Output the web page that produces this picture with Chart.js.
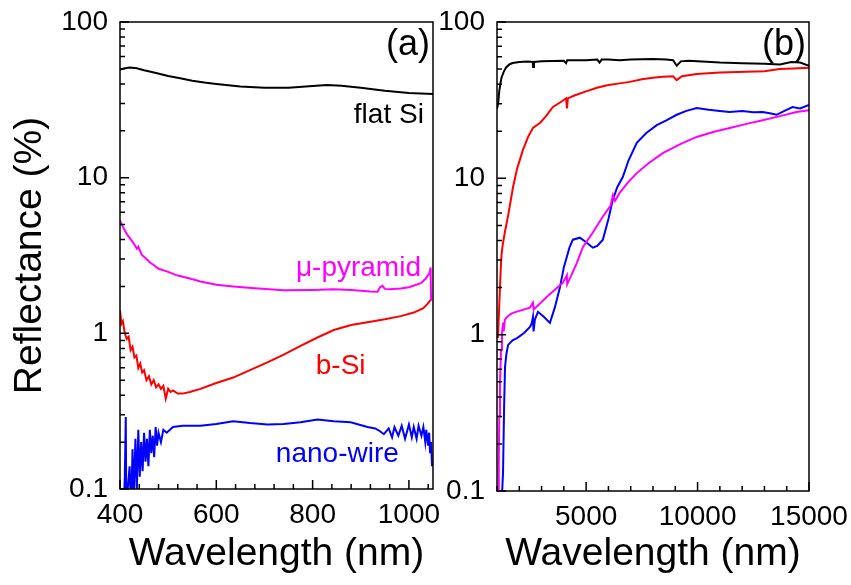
<!DOCTYPE html>
<html>
<head>
<meta charset="utf-8">
<script src="https://cdn.jsdelivr.net/npm/chart.js@4.4.0/dist/chart.umd.min.js"></script>
<style>
  html, body { margin: 0; padding: 0; background: #fff; }
  #wrapA { position: absolute; left: 0; top: 0; width: 440px; height: 585px; }
  #wrapB { position: absolute; left: 440px; top: 0; width: 411px; height: 585px; }
</style>
</head>
<body>
<div id="wrapA"><canvas id="chartA" width="440" height="585"></canvas></div>
<div id="wrapB"><canvas id="chartB" width="411" height="585"></canvas></div>
<script>
//---- panel (a) data: wavelength (nm) / reflectance (%) ----
const flatWl = [400,410,420,435,450,475,500,525,550,575,600,650,700,750,800,830,860,900,950,1000,1050];
const flatR  = [49.5,50.5,51,50.5,49,47,45,43.5,42,40.8,40,38.5,37.8,37.8,38.8,39.4,39,37.8,36.2,35,34.5];

const pyrWl = [400,405,410,415,420,428,435,438,445,455,462,470,480,497,520,545,567,600,635,680,740,800,844,880,920,935,940,945,950,960,983,1000,1025,1035,1043,1045,1046];
const pyrR  = [5.3,4.9,4.6,4.3,4.1,3.8,3.5,3.6,3.2,3.0,2.85,2.75,2.6,2.5,2.35,2.25,2.15,2.05,2.0,1.95,1.89,1.9,1.92,1.9,1.86,1.85,1.98,2.02,1.93,1.92,1.94,1.98,2.1,2.25,2.45,2.65,1.62];

const bsiWl = [400,403,406,410,414,418,422,426,430,434,438,442,446,450,455,460,465,470,475,480,485,490,495,500,505,510,520,530,545,567,600,635,670,706,740,775,810,844,880,914,950,983,1010,1030,1039,1046];
const bsiR  = [1.4,1.15,1.2,1.0,0.92,0.95,0.78,0.82,0.7,0.72,0.6,0.64,0.56,0.58,0.5,0.53,0.47,0.5,0.45,0.47,0.44,0.46,0.38,0.44,0.42,0.43,0.41,0.41,0.42,0.44,0.48,0.52,0.58,0.65,0.73,0.83,0.94,1.05,1.13,1.18,1.23,1.29,1.36,1.45,1.55,1.65];

const nwWl = [405,408,410,412,413,416,420,423,426,429,432,435,438,441,444,447,450,453,456,459,462,465,468,471,474,477,480,485,490,497,510,530,567,600,635,670,706,740,775,810,844,879,914,930,940,948,958,965,970,978,985,992,1000,1006,1010,1016,1020,1026,1030,1034,1036,1040,1042,1044,1046,1048];
const nwR  = [0.06,0.08,0.12,0.29,0.08,0.1,0.14,0.07,0.18,0.09,0.21,0.1,0.24,0.12,0.2,0.13,0.23,0.15,0.21,0.14,0.24,0.17,0.22,0.16,0.25,0.19,0.23,0.2,0.24,0.23,0.25,0.255,0.255,0.262,0.272,0.265,0.26,0.262,0.268,0.28,0.272,0.268,0.25,0.245,0.235,0.225,0.245,0.215,0.25,0.22,0.255,0.21,0.26,0.215,0.25,0.21,0.255,0.22,0.25,0.2,0.24,0.19,0.23,0.17,0.2,0.14];

//---- panel (b) data ----
const flatWlB = [1000,1050,1100,1150,1200,1300,1400,1550,1700,2000,2400,2600,2620,2660,3000,3500,4000,4100,4150,5000,5500,5600,5700,6000,6500,7000,8000,8600,8900,9064,9250,9600,10000,11000,12000,13000,13700,14200,14600,15000];
const flatRB  = [28,30,36,40,44,48,51,53.5,54.6,55.5,55.8,55.5,51.5,55.5,56,56.3,56.5,54.5,57,57,57.5,55,57.5,57.5,57,57.5,58,57.5,57,52.5,56,56.5,56,55,54.5,54,53.5,55.5,55,52.5];

const bsiWlB = [1040,1080,1120,1160,1200,1250,1350,1500,1720,1900,2165,2400,2613,2926,3200,3509,3900,4100,4140,4180,4500,5000,5480,6000,6500,6958,7500,8000,8437,8900,9064,9300,9960,11000,12200,13000,13678,14300,15000];
const bsiRB  = [0.95,1.3,1.8,2.5,3.2,3.7,4.5,5.8,8.8,11.5,15.2,18.5,21,22.6,25,28.6,31,32.5,28,32.5,34,36,38,39.5,40.5,41.4,43,44,44.6,45,42.5,45,46.5,47.5,48,48.5,50,50.5,51];

const nwWlB = [1200,1270,1320,1360,1420,1500,1700,1900,2200,2480,2560,2613,2640,2700,2837,3100,3374,3600,3822,4000,4136,4250,4405,4718,5000,5300,5500,5750,6000,6197,6400,6645,6900,7272,7700,8168,8600,9064,9500,9960,10500,11000,11438,12000,12500,12917,13300,13544,13900,14261,14600,15000];
const nwRB  = [0.08,0.13,0.35,0.62,0.75,0.86,0.92,0.95,1.02,1.12,1.18,1.3,1.05,1.25,1.4,1.3,1.19,1.5,2.0,2.7,3.15,3.6,4.05,4.17,3.9,3.6,3.7,4.05,5.5,7.3,8.8,10.2,13,16.9,19.5,21.9,23.5,25.5,27,28.2,27.5,27,26.6,27,26.5,26.6,26,25.5,27,28.6,28,29.5];

const pyrWlB = [1060,1080,1100,1134,1180,1224,1280,1300,1358,1450,1600,1717,2000,2478,2613,2650,3240,3957,4136,4150,4584,4853,5300,5750,6100,6200,6300,6510,6900,7272,7800,8437,9200,9960,10700,11438,12200,12917,13700,14440,15000];
const pyrRB  = [0.08,0.15,0.3,0.49,0.8,1.03,1.2,1.05,1.25,1.3,1.35,1.38,1.42,1.49,1.6,1.45,1.75,2.15,2.4,2.1,2.88,3.63,4.5,5.7,6.7,7.8,7.2,8.1,9.5,10.8,12.5,14.5,16.5,18.4,19.8,21,22.3,23.5,25,26.6,27.3];

//---- axis ticks ----
const yLabelTicks = [0.1, 1, 10, 100];
const yMinorTicks = [0.2,0.3,0.4,0.5,0.6,0.7,0.8,0.9,2,3,4,5,6,7,8,9,20,30,40,50,60,70,80,90];
const xLabelTicksA = [400, 600, 800, 1000];
const xMinorTicksA = [440,480,520,560,640,680,720,760,840,880,920,960,1040];
const xLabelTicksB = [5000, 10000, 15000];
const xMinorTicksB = [1000,2000,3000,4000,6000,7000,8000,9000,11000,12000,13000,14000];

const pts = (xs, ys) => xs.map((x, i) => ({x: x, y: ys[i]}));

Chart.defaults.font.family = '"Liberation Sans", Arial, sans-serif';
Chart.defaults.color = '#000';

//----PLUGIN: frame, inward ticks, text labels----
const frameTicks = {
  id: 'frameTicks',
  afterDatasetsDraw(chart, args, opts) {
    const { ctx, chartArea: { left, right, top, bottom }, scales: { x, y } } = chart;
    ctx.save();
    ctx.strokeStyle = '#000';
    ctx.lineWidth = 1.5;
    ctx.beginPath();
    yLabelTicks.forEach(v => { const p = y.getPixelForValue(v); ctx.moveTo(left, p); ctx.lineTo(left + 9, p); });
    yMinorTicks.forEach(v => { const p = y.getPixelForValue(v); ctx.moveTo(left, p); ctx.lineTo(left + 5, p); });
    opts.xMajor.forEach(v => { const p = x.getPixelForValue(v); ctx.moveTo(p, bottom); ctx.lineTo(p, bottom - 9); });
    opts.xMinor.forEach(v => { const p = x.getPixelForValue(v); ctx.moveTo(p, bottom); ctx.lineTo(p, bottom - 5); });
    ctx.stroke();
    ctx.strokeRect(left, top, right - left, bottom - top);

    ctx.textAlign = 'right';
    ctx.textBaseline = 'alphabetic';
    ctx.fillStyle = '#000';
    ctx.font = '36px "Liberation Sans", Arial, sans-serif';
    ctx.fillText(opts.panel, right - 3, top + 33);
    ctx.font = '28px "Liberation Sans", Arial, sans-serif';
    (opts.labels || []).forEach(l => {
      ctx.fillStyle = l.color;
      ctx.fillText(l.text, x.getPixelForValue(l.x), y.getPixelForValue(l.y));
    });
    ctx.restore();
  }
};

const lineDs = (label, data, color) => ({
  label, data, borderColor: color, backgroundColor: color,
  showLine: true, pointRadius: 0, borderWidth: 2, tension: 0
});

function makeOptions(cfg) {
  return {
    responsive: false,
    animation: false,
    layout: { padding: { top: 22, right: cfg.padRight, left: 0, bottom: 0 }, autoPadding: false },
    plugins: {
      legend: { display: false },
      tooltip: { enabled: false },
      frameTicks: { panel: cfg.panel, xMajor: cfg.xMajor, xMinor: cfg.xMinor, labels: cfg.labels }
    },
    scales: {
      x: {
        type: 'linear', min: cfg.xMin, max: cfg.xMax,
        afterBuildTicks: s => { s.ticks = cfg.xMajor.map(v => ({ value: v })); },
        afterFit: s => { s.height = cfg.xHeight; s.paddingLeft = 0; s.paddingRight = 0; },
        grid: { display: false, drawTicks: false },
        border: { display: false },
        ticks: { padding: 9, font: { size: 28 }, color: '#000', maxRotation: 0, autoSkip: false, callback: v => String(v) },
        title: { display: cfg.showTitles, text: 'Wavelength (nm)', font: { size: 39 }, color: '#000', padding: { top: 0, bottom: 7 } }
      },
      y: {
        type: 'logarithmic', min: 0.1, max: 100,
        afterBuildTicks: s => { s.ticks = yLabelTicks.map(v => ({ value: v })); },
        afterFit: s => { s.width = cfg.yWidth; s.paddingTop = 0; s.paddingBottom = 0; },
        grid: { display: false, drawTicks: false },
        border: { display: false },
        ticks: { padding: 12, font: { size: 28 }, color: '#000', autoSkip: false, callback: v => String(v) },
        title: { display: cfg.yTitle, text: 'Reflectance (%)', font: { size: 39 }, color: '#000', padding: { top: 7, bottom: 0 } }
      }
    }
  };
}

new Chart(document.getElementById('chartA'), {
  type: 'scatter',
  data: {
    datasets: [
      lineDs('flat Si', pts(flatWl, flatR), '#000000'),
      lineDs('μ-pyramid', pts(pyrWl, pyrR), '#ff00ff'),
      lineDs('b-Si', pts(bsiWl, bsiR), '#ff0000'),
      lineDs('nano-wire', pts(nwWl, nwR), '#0000ff')
    ]
  },
  options: makeOptions({
    panel: '(a)', padRight: 7, xMin: 400, xMax: 1050, xHeight: 96, yWidth: 120,
    xMajor: xLabelTicksA, xMinor: xMinorTicksA, showTitles: true, yTitle: true,
    labels: [
      { text: 'flat Si', x: 1031, y: 22.5, color: '#000000' },
      { text: 'μ-pyramid', x: 1025, y: 2.32, color: '#ff00ff' },
      { text: 'b-Si', x: 910, y: 0.546, color: '#ff0000' },
      { text: 'nano-wire', x: 979, y: 0.149, color: '#0000ff' }
    ]
  }),
  plugins: [frameTicks]
});

new Chart(document.getElementById('chartB'), {
  type: 'scatter',
  data: {
    datasets: [
      lineDs('flat Si', pts(flatWlB, flatRB), '#000000'),
      lineDs('μ-pyramid', pts(pyrWlB, pyrRB), '#ff00ff'),
      lineDs('b-Si', pts(bsiWlB, bsiRB), '#ff0000'),
      lineDs('nano-wire', pts(nwWlB, nwRB), '#0000ff')
    ]
  },
  options: makeOptions({
    panel: '(b)', padRight: 42, xMin: 1000, xMax: 15000, xHeight: 94, yWidth: 57,
    xMajor: xLabelTicksB, xMinor: xMinorTicksB, showTitles: true, yTitle: false,
    labels: []
  }),
  plugins: [frameTicks]
});
</script>
</body>
</html>
